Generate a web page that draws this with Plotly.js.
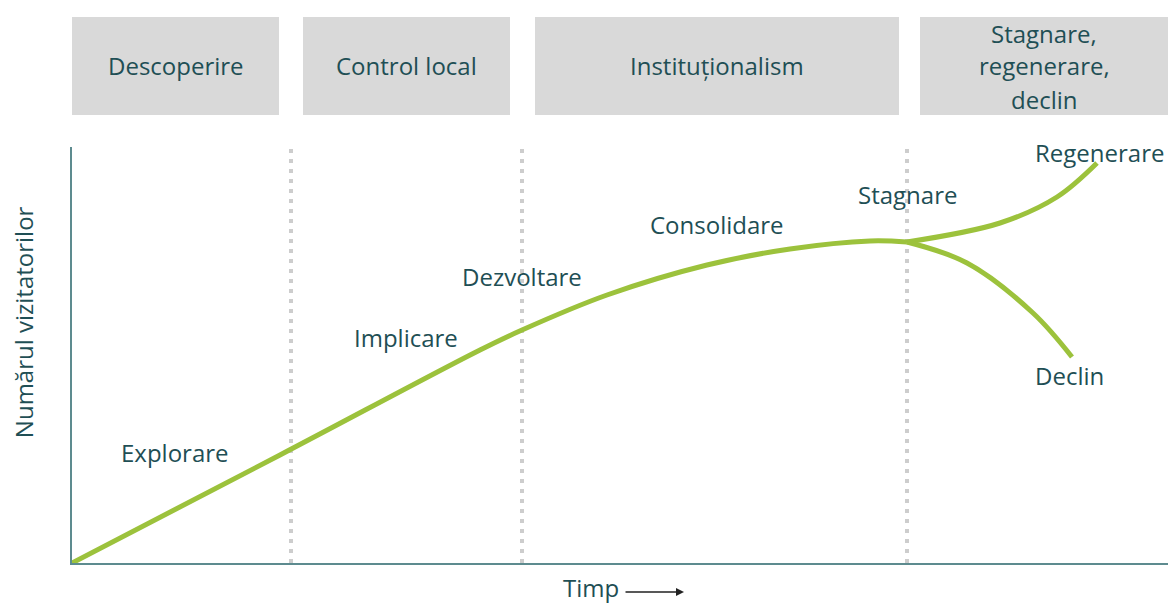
<!DOCTYPE html>
<html>
<head>
<meta charset="utf-8">
<script src="https://cdn.plot.ly/plotly-3.0.1.min.js"></script>
<style>
  html, body { margin: 0; padding: 0; background: #fff; }
  #plot { width: 1168px; height: 604px; }
</style>
</head>
<body>
<div id="plot"></div>
<script>
const timeMain = [0, 208, 408, 450, 535, 635, 718, 798, 835]
const visitorsMain = [0, 108, 213, 233, 268, 298, 314, 322, 321]

const timeRegen = [835, 928, 985, 1025]
const visitorsRegen = [321, 340, 366, 400]

const timeDecline = [835, 895, 961, 1000]
const visitorsDecline = [321, 300, 250, 206]

const phaseLines = [219, 450, 835]
const phaseNames = ['Descoperire', 'Control local', 'Instituționalism']
const phaseStart = [0, 231, 463, 848]
const phaseEnd = [207, 438, 827, 1096]
const lastPhase = ['Stagnare,', 'regenerare,', 'declin']

const stageNames = ['Explorare', 'Implicare', 'Dezvoltare', 'Consolidare', 'Stagnare', 'Regenerare', 'Declin']
const stageX = [103, 334, 450, 645, 835, 1027, 997]
const stageY = [111, 226, 287, 339, 369, 411, 188]

const green = '#9cc23c'
const textColor = '#1f4f55'
const font = { family: 'Open Sans, sans-serif', size: 24, color: textColor }

function curve(x, y) {
    return {
        x: x,
        y: y,
        mode: 'lines',
        line: { color: green, width: 5, shape: 'spline', smoothing: 1 },
        hoverinfo: 'skip',
        showlegend: false
    }
}

function label(text, xref, yref, x, y) {
    return {
        text: text, xref: xref, yref: yref, x: x, y: y,
        xanchor: 'center', yanchor: 'middle',
        showarrow: false, font: font
    }
}

const shapes = []
phaseLines.forEach(function (x) {
    shapes.push({
        type: 'line', xref: 'x', yref: 'paper', x0: x, x1: x, y0: 0, y1: 1,
        line: { color: '#cdcdcd', width: 4, dash: '4px,6px' },
        layer: 'below'
    })
})
phaseStart.forEach(function (x0, i) {
    shapes.push({
        type: 'rect', xref: 'x', yref: 'paper', x0: x0, x1: phaseEnd[i],
        y0: 1.077, y1: 1.3125,
        fillcolor: '#d9d9d9', line: { width: 0 }
    })
})

const annotations = []
phaseNames.forEach(function (name, i) {
    annotations.push(label(name, 'x', 'paper', (phaseStart[i] + phaseEnd[i]) / 2, 1.197))
})
const lastY = [1.274, 1.195, 1.115]
lastPhase.forEach(function (line, i) {
    annotations.push(label(line, 'x', 'paper', (phaseStart[3] + phaseEnd[3]) / 2, lastY[i]))
})
stageNames.forEach(function (name, i) {
    annotations.push(label(name, 'x', 'y', stageX[i], stageY[i]))
})
const yTitle = label('Numărul vizitatorilor', 'paper', 'paper', -0.0447, 0.579)
yTitle.textangle = -90
annotations.push(yTitle)
annotations.push(label('Timp', 'paper', 'paper', 0.4735, -0.06))
annotations.push({
    text: '', xref: 'paper', yref: 'paper',
    x: 0.5584, y: -0.0697, ax: -60, ay: 0,
    showarrow: true, arrowhead: 2, arrowsize: 1, arrowwidth: 1.6, arrowcolor: '#222'
})

const layout = {
    width: 1168,
    height: 604,
    margin: { l: 72, r: 0, t: 147, b: 41 },
    paper_bgcolor: '#fff',
    plot_bgcolor: '#fff',
    xaxis: {
        range: [0, 1096], showgrid: false, zeroline: false, showticklabels: false,
        ticks: '', showline: true, linecolor: '#5d8b8f', linewidth: 2, fixedrange: true
    },
    yaxis: {
        range: [0, 416], showgrid: false, zeroline: false, showticklabels: false,
        ticks: '', showline: true, linecolor: '#5d8b8f', linewidth: 2, fixedrange: true
    },
    shapes: shapes,
    annotations: annotations
}

Plotly.newPlot('plot', [curve(timeMain, visitorsMain), curve(timeRegen, visitorsRegen), curve(timeDecline, visitorsDecline)], layout, { displayModeBar: false, staticPlot: true })
</script>
</body>
</html>
